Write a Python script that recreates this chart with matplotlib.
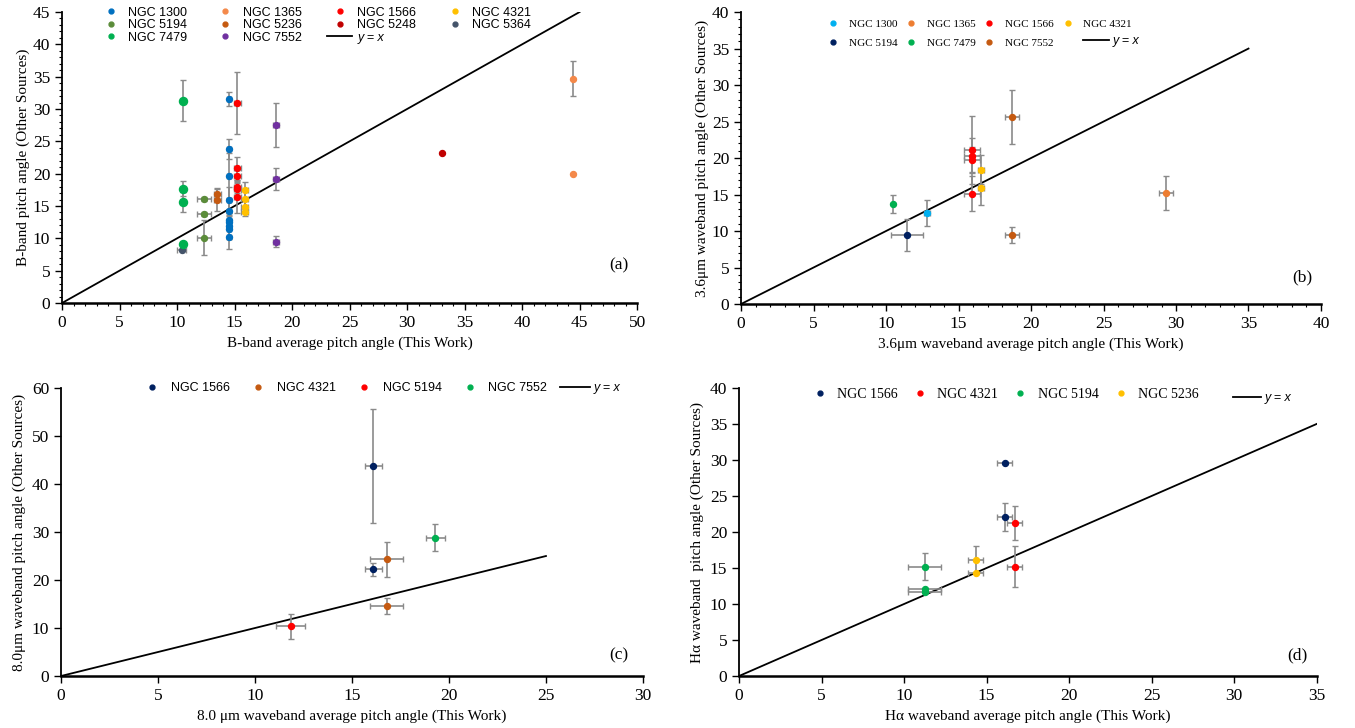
import matplotlib
matplotlib.use('Agg')
import matplotlib.pyplot as plt
from matplotlib.lines import Line2D
from matplotlib.ticker import MultipleLocator

# ---------------- data ----------------
# panel (a) : B-band
a_names = ['NGC 1300', 'NGC 1365', 'NGC 1566', 'NGC 4321', 'NGC 5194',
           'NGC 5236', 'NGC 5248', 'NGC 5364', 'NGC 7479', 'NGC 7552']
a_x = [[14.5, 14.5, 14.5, 14.5, 14.5, 14.5, 14.5, 14.5, 14.5, 14.5],
       [44.4, 44.4],
       [15.25, 15.25, 15.25, 15.25, 15.25, 15.25],
       [15.9, 15.9, 15.9, 15.9],
       [12.35, 12.35, 12.35],
       [13.5, 13.5],
       [33.0],
       [10.4],
       [10.5, 10.5, 10.5, 10.5],
       [18.6, 18.6, 18.6]]
a_y = [[31.5, 23.8, 19.7, 15.9, 14.3, 12.9, 12.6, 11.9, 11.4, 10.2],
       [34.7, 20.0],
       [31.0, 20.8, 19.6, 18.0, 17.7, 16.4],
       [17.5, 16.1, 14.9, 14.1],
       [16.1, 13.7, 10.1],
       [16.9, 16.0],
       [23.2],
       [8.25],
       [31.3, 17.7, 15.6, 9.2],
       [27.5, 19.2, 9.5]]
a_xerr = [[0.2, 0.2, 0.2, 0.2, 0.2, 0.2, 0.2, 0.2, 0.2, 0.2],
          [0.0, 0.0],
          [0.3, 0.3, 0.3, 0.3, 0.3, 0.3],
          [0.3, 0.3, 0.3, 0.3],
          [0.6, 0.6, 0.6],
          [0.3, 0.3],
          [0.0],
          [0.4],
          [0.0, 0.0, 0.0, 0.0],
          [0.3, 0.3, 0.3]]
a_yerr = [[1.1, 1.6, 3.5, 2.0, 1.5, 1.0, 1.0, 1.5, 1.5, 1.8],
          [2.7, 0.0],
          [4.8, 1.8, 1.0, 1.0, 1.0, 2.5],
          [1.2, 1.5, 1.0, 0.6],
          [0.3, 0.3, 2.7],
          [0.8, 1.8],
          [0.0],
          [0.0],
          [3.2, 1.2, 1.5, 0.3],
          [3.4, 1.7, 0.9]]

# panel (b) : 3.6 micron
b_names = ['NGC 1300', 'NGC 1365', 'NGC 1566', 'NGC 4321', 'NGC 5194', 'NGC 7479', 'NGC 7552']
b_x = [[12.85], [29.3], [15.95, 15.95, 15.95, 15.95], [16.55, 16.55],
       [11.45], [10.5], [18.7, 18.7]]
b_y = [[12.5], [15.2], [21.1, 20.3, 19.8, 15.1], [18.4, 15.9],
       [9.5], [13.7], [25.6, 9.5]]
b_xerr = [[0.2], [0.5], [0.55, 0.55, 0.55, 0.55], [0.2, 0.2],
          [1.1], [0.0], [0.5, 0.5]]
b_yerr = [[1.8], [2.3], [4.7, 2.4, 1.7, 2.4], [2.0, 2.3],
          [2.2], [1.2], [3.7, 1.1]]

# panel (c) : 8.0 micron
c_names = ['NGC 1566', 'NGC 4321', 'NGC 5194', 'NGC 7552']
c_x = [[16.1, 16.1], [16.8, 16.8], [11.85], [19.3]]
c_y = [[43.8, 22.2], [24.3, 14.6], [10.4], [28.8]]
c_xerr = [[0.45, 0.45], [0.85, 0.85], [0.75], [0.5]]
c_yerr = [[11.9, 1.4], [3.7, 1.6], [2.6], [2.8]]

# panel (d) : H-alpha
d_names = ['NGC 1566', 'NGC 4321', 'NGC 5194', 'NGC 5236']
d_x = [[16.1, 16.1], [16.7, 16.7], [11.25, 11.25, 11.25], [14.35, 14.35]]
d_y = [[29.6, 22.1], [21.25, 15.2], [15.2, 12.1, 11.7], [16.15, 14.3]]
d_xerr = [[0.45, 0.45], [0.45, 0.45], [1.0, 1.0, 1.0], [0.45, 0.45]]
d_yerr = [[0.0, 1.9], [2.4, 2.9], [1.9, 0.0, 0.0], [1.9, 0.0]]

# colours (excel-like palette)
a_colors = ['#0070C0', '#F4894A', '#FF0000', '#FFC000', '#5B8C3A',
            '#C55A11', '#C00000', '#44546A', '#00B050', '#7030A0']
b_colors = ['#00B0F0', '#ED7D31', '#FF0000', '#FFC000', '#002060', '#00B050', '#C55A11']
c_colors = ['#002060', '#C55A11', '#FF0000', '#00B050']
d_colors = ['#002060', '#FF0000', '#00B050', '#FFC000']

serif = ['Liberation Serif', 'DejaVu Serif']
sans = ['Liberation Sans', 'DejaVu Sans']
plt.rcParams['font.family'] = serif

fig = plt.figure(figsize=(13.55, 7.28), dpi=100)


def draw_panel(ax, names, xs, ys, xerrs, yerrs, colors, msizes=None):
    for i in range(len(names)):
        ms = 4.3 if msizes is None else msizes[i]
        ax.errorbar(xs[i], ys[i], xerr=xerrs[i], yerr=yerrs[i], fmt='o',
                    color=colors[i], ms=ms, mec=colors[i], ecolor='#8a8a8a',
                    elinewidth=1.2, capsize=2.2, capthick=1.0, zorder=3)


def style_axes(ax, xmax, ymax, xstep, ystep, minor):
    ax.set_xlim(0, xmax)
    ax.set_ylim(0, ymax)
    ax.spines['top'].set_visible(False)
    ax.spines['right'].set_visible(False)
    ax.spines['left'].set_linewidth(1.3)
    ax.spines['bottom'].set_linewidth(1.8)
    ax.xaxis.set_major_locator(MultipleLocator(xstep))
    ax.yaxis.set_major_locator(MultipleLocator(ystep))
    if minor:
        ax.xaxis.set_minor_locator(MultipleLocator(1))
        ax.yaxis.set_minor_locator(MultipleLocator(1))
    ax.tick_params(which='major', direction='out', length=5, width=1.0, labelsize=12.5)
    ax.tick_params(which='minor', direction='out', length=2.5, width=0.8)


def yx_line(ax, top):
    ax.plot([0, top], [0, top], color='black', lw=1.3, zorder=2)


def reorder(handles, labels, ncol, nrow):
    # excel legends fill rows first, matplotlib fills columns first
    h2, l2 = [], []
    for c in range(ncol):
        for r in range(nrow):
            k = r * ncol + c
            if k < len(handles):
                h2.append(handles[k])
                l2.append(labels[k])
    return h2, l2


def dot(color, ms):
    return Line2D([], [], ls='none', marker='o', color=color, ms=ms)


def italic_yx(leg, fam, size):
    for t in leg.get_texts():
        if t.get_text() == 'y = x':
            t.set_fontstyle('italic')
            t.set_family(fam)
            t.set_fontsize(size)


yx_handle = Line2D([], [], color='black', lw=1.3)

# ---------------- panel (a) ----------------
ax1 = fig.add_axes([0.0458, 0.5838, 0.4244, 0.3997])
yx_line(ax1, 45)
msa = [4.3, 4.3, 4.3, 4.3, 4.3, 4.3, 4.3, 4.3, 5.8, 4.3]
draw_panel(ax1, a_names, a_x, a_y, a_xerr, a_yerr, a_colors, msa)
style_axes(ax1, 50, 45, 5, 5, True)
ax1.set_xlabel('B-band average pitch angle (This Work)', fontsize=11, labelpad=4)
ax1.set_ylabel('B-band pitch angle (Other Sources)', fontsize=11, labelpad=2)
ax1.text(0.985, 0.13, '(a)', transform=ax1.transAxes, ha='right', va='center', fontsize=12.5)
hs = [dot(c, 3.5) for c in a_colors] + [yx_handle]
ls = a_names + ['y = x']
hs, ls = reorder(hs, ls, 4, 3)
leg = ax1.legend(hs, ls, ncol=4, loc='upper left', bbox_to_anchor=(0.052, 1.04), frameon=False,
                 prop={'family': sans, 'size': 9}, handlelength=2.0, handletextpad=0.4,
                 columnspacing=2.05, labelspacing=0.05, borderpad=0)
italic_yx(leg, sans, 9)

# ---------------- panel (b) ----------------
ax2 = fig.add_axes([0.5469, 0.5824, 0.4280, 0.4010])
yx_line(ax2, 35)
draw_panel(ax2, b_names, b_x, b_y, b_xerr, b_yerr, b_colors)
style_axes(ax2, 40, 40, 5, 5, True)
ax2.set_xlabel('3.6\u03bcm waveband average pitch angle (This Work)', fontsize=11, labelpad=4)
ax2.set_ylabel('3.6\u03bcm waveband pitch angle (Other Sources)', fontsize=11, labelpad=2)
ax2.text(0.985, 0.09, '(b)', transform=ax2.transAxes, ha='right', va='center', fontsize=12.5)
hs = [dot(c, 3.5) for c in b_colors]
hs, ls = reorder(hs, b_names, 4, 2)
leg = ax2.legend(hs, ls, ncol=4, loc='upper left', bbox_to_anchor=(0.13, 0.995), frameon=False,
                 prop={'family': serif, 'size': 8}, handlelength=2.0, handletextpad=0.4,
                 columnspacing=0.25, labelspacing=0.8, borderpad=0)
ax2.add_artist(leg)
leg2 = ax2.legend([yx_handle], ['y = x'], loc='center left', bbox_to_anchor=(0.578, 0.90),
                  frameon=False, prop={'family': sans, 'size': 9}, handlelength=2.1,
                  handletextpad=0.3, borderpad=0)
italic_yx(leg2, sans, 9)

# ---------------- panel (c) ----------------
ax3 = fig.add_axes([0.0450, 0.0714, 0.4295, 0.3956])
ax3.plot([0, 25], [0, 25], color='black', lw=1.3, zorder=2)
draw_panel(ax3, c_names, c_x, c_y, c_xerr, c_yerr, c_colors)
style_axes(ax3, 30, 60, 5, 10, False)
ax3.set_xlabel('8.0 \u03bcm waveband average pitch angle (This Work)', fontsize=11, labelpad=4)
ax3.set_ylabel('8.0\u03bcm waveband pitch angle (Other Sources)', fontsize=11, labelpad=4)
ax3.text(0.975, 0.07, '(c)', transform=ax3.transAxes, ha='right', va='center', fontsize=12.5)
hs = [dot(c, 3.5) for c in c_colors] + [yx_handle]
ls = c_names + ['y = x']
leg = ax3.legend(hs, ls, ncol=5, loc='center left', bbox_to_anchor=(0.12, 1.0), frameon=False,
                 prop={'family': sans, 'size': 9}, handlelength=2.4, handletextpad=0.3,
                 columnspacing=1.05, borderpad=0)
italic_yx(leg, sans, 9)

# ---------------- panel (d) ----------------
ax4 = fig.add_axes([0.5454, 0.0714, 0.4262, 0.3956])
ax4.plot([0, 35], [0, 35], color='black', lw=1.3, zorder=2)
draw_panel(ax4, d_names, d_x, d_y, d_xerr, d_yerr, d_colors)
style_axes(ax4, 35, 40, 5, 5, False)
ax4.set_xlabel('H\u03b1 waveband average pitch angle (This Work)', fontsize=11, labelpad=4)
ax4.set_ylabel('H\u03b1 waveband  pitch angle (Other Sources)', fontsize=11, labelpad=4)
ax4.text(0.985, 0.07, '(d)', transform=ax4.transAxes, ha='right', va='center', fontsize=12.5)
hs = [dot(c, 3.5) for c in d_colors]
leg = ax4.legend(hs, d_names, ncol=4, loc='center left', bbox_to_anchor=(0.104, 0.979), frameon=False,
                 prop={'family': serif, 'size': 10}, handlelength=1.95, handletextpad=0.3,
                 columnspacing=0.6, borderpad=0)
ax4.add_artist(leg)
leg2 = ax4.legend([yx_handle], ['y = x'], loc='center left', bbox_to_anchor=(0.845, 0.965),
                  frameon=False, prop={'family': sans, 'size': 9}, handlelength=2.2,
                  handletextpad=0.3, borderpad=0)
italic_yx(leg2, sans, 9)

plt.savefig('out.png', dpi=100)
